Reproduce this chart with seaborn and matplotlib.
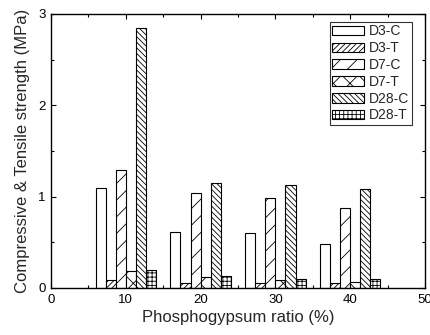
import numpy as np
import pandas as pd
import seaborn as sns
import matplotlib
matplotlib.use("Agg")
import matplotlib.pyplot as plt
from matplotlib.patches import Patch
from matplotlib.ticker import MultipleLocator

ratios = [10, 20, 30, 40]
series = ["D3-C", "D3-T", "D7-C", "D7-T", "D28-C", "D28-T"]
d3_c = [1.09, 0.61, 0.60, 0.48]
d3_t = [0.09, 0.06, 0.06, 0.05]
d7_c = [1.29, 1.04, 0.99, 0.88]
d7_t = [0.19, 0.12, 0.09, 0.07]
d28_c = [2.85, 1.15, 1.13, 1.08]
d28_t = [0.20, 0.13, 0.10, 0.10]
hatches = ["", "//////", "//", "xx", "\\\\\\\\\\\\", "++++"]

values = [d3_c, d3_t, d7_c, d7_t, d28_c, d28_t]
rows = []
for s, vals in zip(series, values):
    for r, v in zip(ratios, vals):
        rows.append({"ratio": r, "series": s, "value": v})
df = pd.DataFrame(rows)

sns.set_style("ticks")
plt.rcParams["font.family"] = ["Liberation Sans", "DejaVu Sans"]
plt.rcParams["hatch.linewidth"] = 0.6
plt.rcParams["xtick.direction"] = "in"
plt.rcParams["ytick.direction"] = "in"

fig = plt.figure(figsize=(4.3, 3.35), dpi=100)
ax = fig.add_axes([51 / 430, 1 - 288 / 335, (425 - 51) / 430, (288 - 14) / 335])

sns.barplot(data=df, x="ratio", y="value", hue="series", hue_order=series,
            native_scale=True, width=0.81, palette=["white"] * 6,
            edgecolor="black", linewidth=0.8, errorbar=None, legend=False, ax=ax)

for cont, h in zip(ax.containers, hatches):
    for p in cont:
        p.set_hatch(h)
        p.set_facecolor("white")
        p.set_edgecolor("black")

ax.set_xlim(0, 50)
ax.set_ylim(0, 3)
ax.xaxis.set_major_locator(MultipleLocator(10))
ax.xaxis.set_minor_locator(MultipleLocator(5))
ax.yaxis.set_major_locator(MultipleLocator(1))
ax.yaxis.set_minor_locator(MultipleLocator(0.5))
ax.tick_params(which="both", top=True, right=True, direction="in", labelsize=9.5,
               color="black", labelcolor="black", pad=4)
ax.tick_params(which="major", length=3.5, width=0.8)
ax.tick_params(which="minor", length=2, width=0.8)
ax.set_xticklabels([], minor=True)
for sp in ax.spines.values():
    sp.set_visible(True)
    sp.set_color("black")
    sp.set_linewidth(1.0)

ax.set_xlabel("Phosphogypsum ratio (%)", fontsize=12, labelpad=3)
ax.set_ylabel("Compressive & Tensile strength (MPa)", fontsize=12, labelpad=6)

handles = [Patch(facecolor="white", edgecolor="black", hatch=h, linewidth=0.8, label=s)
           for s, h in zip(series, hatches)]
leg = ax.legend(handles=handles, loc="upper right", bbox_to_anchor=(0.966, 0.972),
                fontsize=10, frameon=True, fancybox=False, handlelength=2.25,
                handleheight=0.7, labelspacing=0.2, handletextpad=0.4,
                borderpad=0.2, borderaxespad=0.0)
leg.get_frame().set_edgecolor("black")
leg.get_frame().set_linewidth(0.8)

fig.savefig("out.png", dpi=100)
